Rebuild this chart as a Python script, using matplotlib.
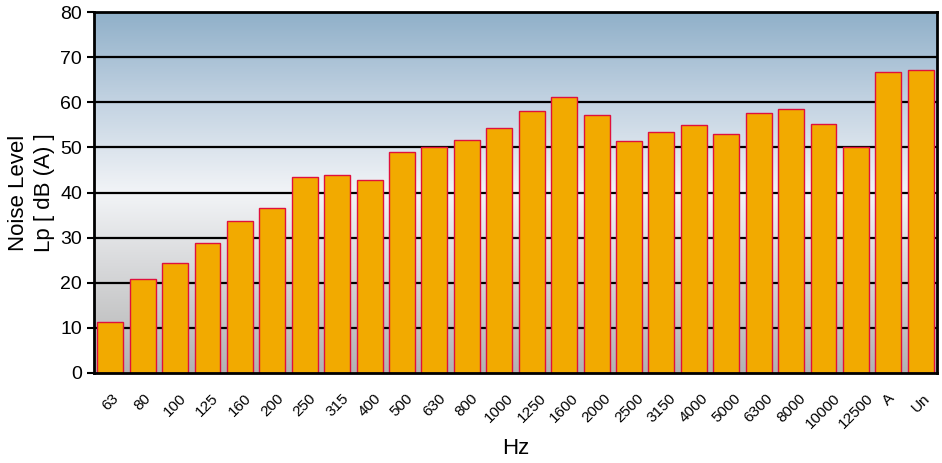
import numpy as np
import matplotlib
matplotlib.use("Agg")
import matplotlib.pyplot as plt
from matplotlib.colors import LinearSegmentedColormap

bands = ['63', '80', '100', '125', '160', '200', '250', '315', '400', '500',
         '630', '800', '1000', '1250', '1600', '2000', '2500', '3150', '4000',
         '5000', '6300', '8000', '10000', '12500', 'A', 'Un']
levels = [11.3, 20.8, 24.4, 28.8, 33.7, 36.6, 43.5, 43.9, 42.8, 49.0,
          50.1, 51.7, 54.3, 58.1, 61.2, 57.2, 51.4, 53.4, 55.0, 53.0,
          57.6, 58.5, 55.2, 50.1, 66.7, 67.2]

plt.rcParams['font.family'] = ['Liberation Sans', 'DejaVu Sans']

fig = plt.figure(figsize=(9.42, 4.63), dpi=100)
ax = fig.add_axes([0.0998, 0.1944, 0.8949, 0.7796])

x = np.arange(len(bands))
ax.set_xlim(-0.5, len(bands) - 0.5)
ax.set_ylim(0, 80)

# background gradient: grey at bottom, white in middle, steel blue at top
cmap = LinearSegmentedColormap.from_list(
    'bg', [(0.0, '#b2b2b2'), (0.5, '#f2f4f7'), (0.75, '#c3d3e2'), (1.0, '#90b0c9')])
grad = np.linspace(0, 1, 256).reshape(-1, 1)
ax.imshow(grad, cmap=cmap, aspect='auto', origin='lower',
          extent=(-0.5, len(bands) - 0.5, 0, 80), zorder=0)

for yv in range(10, 80, 10):
    ax.axhline(yv, color='black', lw=1.6, zorder=1)

ax.bar(x, levels, width=0.8, color='#f2aa00', edgecolor='#e0103c',
       linewidth=1.0, zorder=2)

ax.set_xticks(x)
ax.set_xticklabels(bands, rotation=45, ha='center', fontsize=11)
ax.tick_params(axis='x', length=0, pad=13)
ax.set_yticks(range(0, 90, 10))
ax.tick_params(axis='y', labelsize=14, length=5, width=1.5, direction='out')

for sp in ax.spines.values():
    sp.set_linewidth(2)
    sp.set_color('black')
    sp.set_zorder(3)

ax.set_xlabel('Hz', fontsize=16, labelpad=5)
ax.set_ylabel('Noise Level\nLp [ dB (A) ]', fontsize=16, labelpad=4,
              linespacing=1.3)

fig.savefig('out.png', dpi=100)
